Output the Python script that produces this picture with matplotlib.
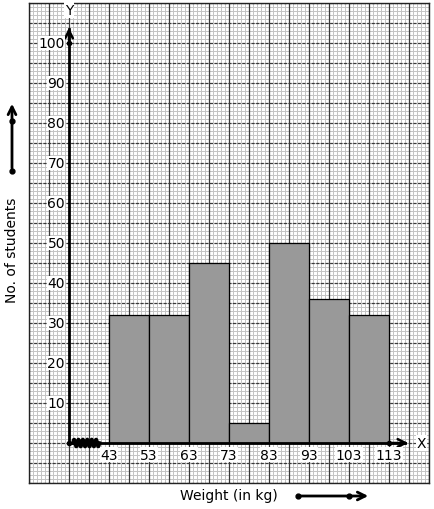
import numpy as np
import matplotlib
matplotlib.use("Agg")
import matplotlib.pyplot as plt

## Histogram data (class intervals of weight, frequency)
class_starts = [43, 53, 63, 73, 83, 93, 103]
class_width = 10
students = [32, 32, 45, 5, 50, 36, 32]
x_ticks = [43, 53, 63, 73, 83, 93, 103, 113]
y_ticks = [10, 20, 30, 40, 50, 60, 70, 80, 90, 100]

## Graph paper extents (data units)
x_min, x_max = 23, 123
y_min, y_max = -10, 110
origin_x = 33

fig = plt.figure(figsize=(4.34, 5.10), dpi=100)
ax = fig.add_axes([29 / 434, 26 / 510, 400 / 434, 480 / 510])
ax.set_xlim(x_min, x_max)
ax.set_ylim(y_min, y_max)

## Graph paper: minor and major lines
for v in np.arange(x_min, x_max + 1, 1):
    ax.axvline(v, color="#c4c4c4", lw=0.7, zorder=0)
for v in np.arange(y_min, y_max + 1, 1):
    ax.axhline(v, color="#c4c4c4", lw=0.7, zorder=0)
for v in np.arange(x_min, x_max + 1, 5):
    ax.axvline(v, color="#3a3a3a", lw=0.9, zorder=0.5)
for v in np.arange(y_min, y_max + 1, 5):
    ax.axhline(v, color="#3a3a3a", lw=0.9, ls=(0, (2.5, 1.2)), zorder=0.5)

for s in ax.spines.values():
    s.set_color("#222222")
    s.set_linewidth(1.0)
ax.set_xticks([])
ax.set_yticks([])

## Bars
ax.bar(class_starts, students, width=class_width, align="edge",
       color="#999999", edgecolor="black", lw=0.9, zorder=2)

## Axes lines with arrows
ax.plot([origin_x, origin_x], [0, 103.5], color="black", lw=2, zorder=3)
ax.annotate("", xy=(origin_x, 104.5), xytext=(origin_x, 100),
            arrowprops=dict(arrowstyle="->", lw=1.8, color="black",
                            mutation_scale=14), zorder=4)
ax.plot([origin_x, 117], [0, 0], color="black", lw=2, zorder=3)
ax.annotate("", xy=(118.5, 0), xytext=(113, 0),
            arrowprops=dict(arrowstyle="->", lw=1.8, color="black",
                            mutation_scale=14), zorder=4)
ax.plot([origin_x, origin_x, 113], [0, 100, 0], "o", color="black", ms=3, zorder=5)

## Kink on x axis
zx = np.linspace(34, 40.6, 60)
zy = 0.9 * np.sin((zx - 34) * 2 * np.pi / 1.1)
ax.plot(zx, zy, color="black", lw=2.6, zorder=4)

ax.text(origin_x, 106.5, "Y", ha="center", va="bottom", fontsize=10, zorder=6,
        bbox=dict(fc="white", ec="none", pad=0.5))
ax.text(120, 0, "X", ha="left", va="center", fontsize=10, zorder=6,
        bbox=dict(fc="white", ec="none", pad=0.5))

for t in y_ticks:
    ax.text(origin_x - 1, t, str(t), ha="right", va="center", fontsize=10, zorder=6,
            bbox=dict(fc="white", ec="none", pad=0.3))
for t in x_ticks:
    ax.text(t, -1.2, str(t), ha="center", va="top", fontsize=10, zorder=6,
            bbox=dict(fc="white", ec="none", pad=0.3))

## Axis titles and direction arrows outside the paper
fig.text(12 / 434, 1 - 250 / 510, "No. of students", rotation=90,
         ha="center", va="center", fontsize=10)
fig.text(229 / 434, 1 - 496 / 510, "Weight (in kg)",
         ha="center", va="center", fontsize=10)

fig.add_artist(matplotlib.patches.FancyArrowPatch(
    (12 / 434, 1 - 172 / 510), (12 / 434, 1 - 102 / 510),
    transform=fig.transFigure, arrowstyle="->", lw=2, mutation_scale=14, color="black"))
fig.add_artist(matplotlib.patches.FancyArrowPatch(
    (298 / 434, 1 - 497 / 510), (371 / 434, 1 - 497 / 510),
    transform=fig.transFigure, arrowstyle="->", lw=2, mutation_scale=14, color="black"))
fig.add_artist(matplotlib.lines.Line2D(
    [12 / 434, 12 / 434], [1 - 172 / 510, 1 - 122 / 510], transform=fig.transFigure,
    ls="none", marker="o", ms=3.5, color="black"))
fig.add_artist(matplotlib.lines.Line2D(
    [298 / 434, 349 / 434], [1 - 497 / 510, 1 - 497 / 510], transform=fig.transFigure,
    ls="none", marker="o", ms=3.5, color="black"))

plt.savefig("out.png", dpi=100)
